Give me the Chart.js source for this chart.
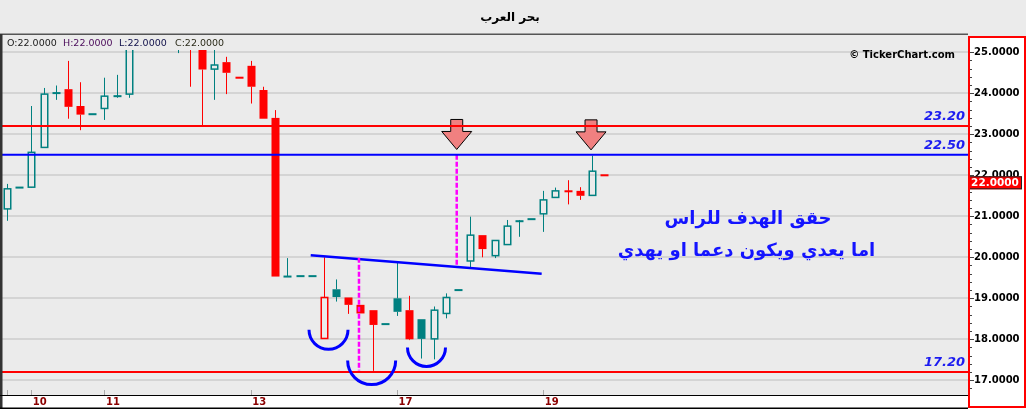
<!DOCTYPE html>
<html>
<head>
<meta charset="utf-8">
<title>بحر العرب</title>
<script src="https://cdn.jsdelivr.net/npm/chart.js@4.4.1/dist/chart.umd.min.js"></script>
<style>
  html, body { margin: 0; padding: 0; background: #ebebeb; }
  #wrap { width: 1026px; height: 409px; }
</style>
</head>
<body>
<div id="wrap"><canvas id="chart" width="1026" height="409"></canvas></div>
<script>
// bougies horaires (index 0..49)
const opens  = [21.18, 21.70, 21.71, 22.68, 24.01, 24.10, 23.69, 23.49, 23.63, 23.93,
                23.98, 25.50, 25.80, 25.60, 25.90, 25.60, 25.15, 24.59, 24.76, 24.38,
                24.67, 24.08, 23.40, 19.53, 19.54, 19.54, 18.02, 19.22, 19.02, 18.84,
                18.71, 18.37, 19.00, 18.71, 18.49, 18.01, 18.63, 19.20, 19.91, 20.54,
                20.04, 20.31, 20.88, 20.93, 21.06, 21.46, 21.61, 21.62, 21.51, 22.00];
const highs  = [21.79, 21.70, 23.69, 24.13, 24.19, 24.79, 24.27, 23.49, 24.38, 24.45,
                25.60, 26.00, 26.00, 26.10, 26.10, 25.90, 25.30, 25.30, 24.89, 24.38,
                24.79, 24.16, 23.59, 19.98, 19.54, 19.54, 20.00, 19.46, 19.02, 18.84,
                18.71, 18.37, 19.87, 19.06, 18.49, 18.80, 19.12, 19.20, 20.99, 20.54,
                20.41, 20.91, 20.91, 20.93, 21.62, 21.70, 21.88, 21.71, 22.48, 22.00];
const lows   = [20.89, 21.70, 21.70, 22.68, 23.84, 23.38, 23.10, 23.49, 23.35, 23.89,
                23.89, 25.30, 25.40, 25.40, 24.98, 24.16, 23.20, 23.84, 23.98, 24.38,
                23.75, 23.38, 19.53, 19.53, 19.54, 19.54, 18.02, 18.92, 18.62, 18.63,
                17.23, 18.37, 18.57, 17.98, 17.53, 17.51, 18.51, 19.20, 19.76, 20.00,
                19.98, 20.31, 20.50, 20.93, 20.62, 21.46, 21.29, 21.40, 21.51, 22.00];
const closes = [21.67, 21.70, 22.56, 23.98, 24.00, 23.67, 23.48, 23.49, 23.93, 23.93,
                25.40, 25.80, 25.60, 25.90, 25.95, 25.20, 24.58, 24.69, 24.50, 24.38,
                24.16, 23.38, 19.53, 19.53, 19.54, 19.54, 19.02, 19.03, 18.84, 18.63,
                18.35, 18.37, 18.67, 18.00, 18.01, 18.71, 19.02, 19.20, 20.54, 20.20,
                20.41, 20.76, 20.88, 20.93, 21.40, 21.62, 21.61, 21.50, 22.10, 22.00];

const dayTickIndex  = [0, 2, 8, 20, 32, 44];
const dayTickLabels = ['', '10', '11', '13', '17', '19'];
const priceTicks = [17, 18, 19, 20, 21, 22, 23, 24, 25];

const levelValues = [23.20, 22.50, 17.20];
const levelLabels = ['23.20', '22.50', '17.20'];
const trendLine = [{ x: 24.92, y: 20.05 }, { x: 43.87, y: 19.60 }];
const targetLines = [
  [{ x: 28.88, y: 19.99 }, { x: 28.88, y: 17.24 }],
  [{ x: 36.90, y: 22.50 }, { x: 36.90, y: 19.81 }]
];
const arrowTips = [{ x: 36.90, y: 22.63 }, { x: 47.92, y: 22.62 }];
const bottomArcs = [{ x: 26.38, y: 18.23 }, { x: 29.92, y: 17.48 }, { x: 34.42, y: 17.80 }];
const noteLines = [
  { text: 'حقق الهدف للراس', x: 60.8, y: 20.93 },
  { text: 'اما يعدي ويكون دعما او يهدي', x: 60.67, y: 20.15 }
];

const chartTitle = 'بحر العرب';
const X_MIN = -0.41, X_MAX = 78.85;
const Y_MIN = 16.641, Y_MAX = 25.056;
const arcRadius = [19.5, 24, 19];
const lastClose = closes[closes.length - 1];

const UP = '#008080', DOWN = '#ff0000';

function drawCandles(chart) {
  const ctx = chart.ctx, a = chart.chartArea;
  const xs = chart.scales.x, ys = chart.scales.y;
  ctx.save();
  ctx.beginPath();
  ctx.rect(a.left, a.top, a.right - a.left, a.bottom - a.top);
  ctx.clip();
  for (let i = 0; i < opens.length; i++) {
    const o = opens[i], h = highs[i], l = lows[i], c = closes[i];
    const prev = i > 0 ? closes[i - 1] : o;
    const color = c >= prev ? UP : DOWN;
    const px = Math.round(xs.getPixelForValue(i));
    const yO = ys.getPixelForValue(o), yC = ys.getPixelForValue(c);
    const yH = ys.getPixelForValue(h), yL = ys.getPixelForValue(l);
    const top = Math.min(yO, yC), bot = Math.max(yO, yC);
    ctx.strokeStyle = color;
    ctx.fillStyle = color;
    ctx.lineWidth = 1;
    ctx.beginPath();
    ctx.moveTo(px + 0.5, yH); ctx.lineTo(px + 0.5, top);
    ctx.moveTo(px + 0.5, bot); ctx.lineTo(px + 0.5, yL);
    ctx.stroke();
    if (bot - top < 2) {
      ctx.fillRect(px - 3.5, (top + bot) / 2 - 1, 8, 2);
    } else if (c > o) {
      ctx.lineWidth = 1.5;
      ctx.strokeRect(px - 2.75, top, 6.5, bot - top);
    } else {
      ctx.fillRect(px - 3.5, top, 8, bot - top);
    }
  }
  ctx.restore();
}

function drawArrow(ctx, x, tipY) {
  const hw = 15, sw = 6, headH = 18, total = 30;
  ctx.beginPath();
  ctx.moveTo(x - sw, tipY - total);
  ctx.lineTo(x + sw, tipY - total);
  ctx.lineTo(x + sw, tipY - headH);
  ctx.lineTo(x + hw, tipY - headH);
  ctx.lineTo(x, tipY);
  ctx.lineTo(x - hw, tipY - headH);
  ctx.lineTo(x - sw, tipY - headH);
  ctx.closePath();
  ctx.fillStyle = '#f08080';
  ctx.fill();
  ctx.strokeStyle = '#000';
  ctx.lineWidth = 1;
  ctx.stroke();
}

const tickerPlugin = {
  id: 'ticker',
  beforeDraw(chart) {
    const ctx = chart.ctx, a = chart.chartArea;
    ctx.save();
    ctx.fillStyle = '#ebebeb';
    ctx.fillRect(0, 0, chart.width, chart.height);
    ctx.fillStyle = '#ffffff';
    ctx.fillRect(0, a.bottom, a.right, chart.height - a.bottom);
    ctx.fillRect(a.right, 36, chart.width - a.right, chart.height - 36);

    ctx.fillStyle = '#000';
    ctx.font = 'bold 12px "DejaVu Sans"';
    ctx.textAlign = 'center';
    ctx.textBaseline = 'middle';
    ctx.fillText(chartTitle, 510, 18);

    // ligne OHLC
    const v = lastClose.toFixed(4);
    const parts = [['O:' + v, 7, '#1a1a1a'], ['H:' + v, 63, '#4a0a5a'], ['L:' + v, 119, '#10104a'], ['C:' + v, 175, '#2b2b1a']];
    ctx.font = '9.5px "DejaVu Sans"';
    ctx.textAlign = 'left';
    parts.forEach(p => { ctx.fillStyle = p[2]; ctx.fillText(p[0], p[1], 44); });
    ctx.restore();
  },
  beforeDatasetsDraw(chart) {
    drawCandles(chart);
    const ctx = chart.ctx, xs = chart.scales.x, ys = chart.scales.y;
    ctx.save();
    arrowTips.forEach(t => drawArrow(ctx, xs.getPixelForValue(t.x), ys.getPixelForValue(t.y)));
    ctx.restore();
  },
  afterDatasetsDraw(chart) {
    const ctx = chart.ctx, a = chart.chartArea, xs = chart.scales.x, ys = chart.scales.y;
    ctx.save();
    ctx.strokeStyle = '#0000ff';
    ctx.lineWidth = 3;
    bottomArcs.forEach((arc, i) => {
      ctx.beginPath();
      ctx.arc(xs.getPixelForValue(arc.x), ys.getPixelForValue(arc.y), arcRadius[i], 0, Math.PI);
      ctx.stroke();
    });

    ctx.fillStyle = '#1414ff';
    ctx.textAlign = 'center';
    ctx.textBaseline = 'middle';
    ctx.font = 'bold 18px "DejaVu Sans"';
    noteLines.forEach(n => ctx.fillText(n.text, xs.getPixelForValue(n.x), ys.getPixelForValue(n.y)));

    ctx.font = 'italic bold 13px "DejaVu Sans"';
    ctx.textAlign = 'right';
    ctx.fillStyle = '#1c1cf0';
    levelValues.forEach((lv, i) => ctx.fillText(levelLabels[i], a.right - 3, ys.getPixelForValue(lv) - 9));

    ctx.fillStyle = '#000';
    ctx.font = 'bold 10px "DejaVu Sans"';
    ctx.fillText('© TickerChart.com', 955, 55);
    ctx.restore();
  },
  afterDraw(chart) {
    const ctx = chart.ctx, a = chart.chartArea, xs = chart.scales.x, ys = chart.scales.y;
    ctx.save();
    // cadre
    ctx.fillStyle = '#555';
    ctx.fillRect(0, 33.5, a.right, 1.5);
    ctx.fillStyle = '#333';
    ctx.fillRect(0, 34, 2.5, 375);
    ctx.fillStyle = '#000';
    ctx.fillRect(0, a.bottom, a.right, 1);
    ctx.fillRect(0, 407.5, a.right, 1.5);

    // graduations axe X
    ctx.strokeStyle = '#aaaaaa';
    ctx.lineWidth = 1;
    dayTickIndex.forEach(t => {
      const px = Math.round(xs.getPixelForValue(t)) + 0.5;
      ctx.beginPath(); ctx.moveTo(px, a.bottom - 5); ctx.lineTo(px, a.bottom); ctx.stroke();
    });

    // graduations axe Y
    ctx.strokeStyle = '#444';
    for (let k = 84; k <= 125; k++) {
      const val = k / 5;
      const py = Math.round(ys.getPixelForValue(val)) + 0.5;
      const len = k % 5 === 0 ? 5 : 3;
      ctx.beginPath(); ctx.moveTo(a.right + 1, py); ctx.lineTo(a.right + 1 + len, py); ctx.stroke();
    }

    // étiquette du dernier cours
    const yLast = ys.getPixelForValue(lastClose);
    ctx.fillStyle = '#ff0000';
    ctx.fillRect(a.right, yLast + 1, 54, 13);
    ctx.strokeStyle = '#222';
    ctx.strokeRect(a.right + 0.5, yLast + 1.5, 53, 12);
    ctx.fillStyle = '#fff';
    ctx.font = 'bold 10.5px "DejaVu Sans"';
    ctx.textAlign = 'center';
    ctx.textBaseline = 'middle';
    ctx.fillText(lastClose.toFixed(4), a.right + 27, yLast + 8);

    ctx.strokeStyle = '#ff0000';
    ctx.lineWidth = 2;
    ctx.strokeRect(a.right + 1, 37, chart.width - a.right - 2, 370);
    ctx.restore();
  }
};

const levelColors = ['#ff0000', '#0000ff', '#ff0000'];
const datasets = [];
levelValues.forEach((lv, i) => datasets.push({
  data: [{ x: X_MIN, y: lv }, { x: X_MAX, y: lv }],
  borderColor: levelColors[i], borderWidth: 2
}));
targetLines.forEach(seg => datasets.push({
  data: seg, borderColor: '#ff00ff', borderWidth: 2.5, borderDash: [5, 2]
}));
datasets.push({ data: trendLine, borderColor: '#0000ff', borderWidth: 2.5 });

new Chart(document.getElementById('chart').getContext('2d'), {
  type: 'line',
  data: { datasets },
  options: {
    responsive: false,
    animation: false,
    devicePixelRatio: 1,
    layout: { padding: { top: 50, left: 2, right: 2, bottom: 2 } },
    elements: { point: { radius: 0 }, line: { tension: 0, fill: false } },
    plugins: { legend: { display: false }, tooltip: { enabled: false }, title: { display: false } },
    scales: {
      x: {
        type: 'linear', min: X_MIN, max: X_MAX,
        afterFit(s) { s.height = 12; },
        afterBuildTicks(s) { s.ticks = dayTickIndex.map(v => ({ value: v })); },
        grid: { display: false, drawTicks: false },
        border: { display: false },
        ticks: {
          callback: (v) => dayTickLabels[dayTickIndex.indexOf(v)],
          align: 'start', labelOffset: 1.5, padding: 1,
          maxRotation: 0, autoSkip: false, color: '#8b0000',
          font: { family: 'DejaVu Sans', size: 10, weight: 'bold' }
        }
      },
      y: {
        type: 'linear', position: 'right', min: Y_MIN, max: Y_MAX,
        afterFit(s) { s.width = 56; },
        afterBuildTicks(s) { s.ticks = priceTicks.map(v => ({ value: v })); },
        grid: { color: '#d4d4d4', lineWidth: 2, drawTicks: false },
        border: { display: false },
        ticks: {
          callback: (v) => v.toFixed(4), padding: 6, color: '#000',
          font: { family: 'DejaVu Sans', size: 10, weight: 'bold' }
        }
      }
    }
  },
  plugins: [tickerPlugin]
});
</script>
</body>
</html>
